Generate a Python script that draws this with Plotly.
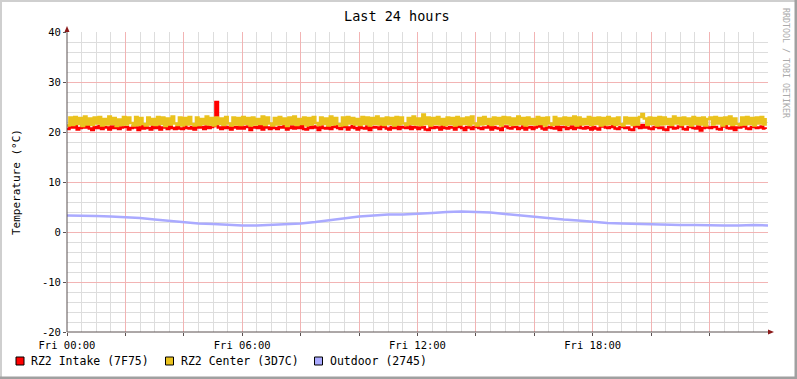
import plotly.graph_objects as go

# ---------------- data ----------------
title_text = "Last 24 hours"
y_title = "Temperature (°C)"
series_names = ["RZ2 Intake (7F75)", "RZ2 Center (3D7C)", "Outdoor (2745)"]
series_colors = ["#FF0000", "#EAC21E", "#AAAAFF"]

x_tick_hours = [0, 2, 4, 6, 8, 10, 12, 14, 16, 18, 20, 22]
x_tick_text = ["Fri 00:00", "", "", "Fri 06:00", "", "", "Fri 12:00", "", "", "Fri 18:00", "", ""]
y_tick_vals = [-20, -10, 0, 10, 20, 30, 40]
y_tick_text = ["-20", "-10", "0", "10", "20", "30", "40"]

# RZ2 Intake, 5-minute samples (288)
intake = [
    20.6, 21.0, 20.9, 21.2, 20.5, 20.8, 21.1, 20.9, 21.3, 20.7, 20.4, 21.0,
    20.8, 21.2, 20.6, 21.0, 20.9, 20.5, 21.1, 20.8, 21.2, 20.6, 20.9, 21.0,
    21.0, 20.5, 20.8, 21.1, 20.9, 20.4, 21.2, 20.7, 21.0, 20.8, 20.5, 21.1,
    20.8, 21.1, 20.5, 20.9, 21.0, 20.6, 21.1, 20.8, 20.6, 21.0, 20.7, 20.6,
    21.1, 20.8, 20.7, 21.0, 20.5, 21.2, 20.9, 21.0, 20.6, 21.1, 20.8, 21.0,
    21.2, 26.0, 20.9, 20.6, 21.1, 20.8, 21.0, 20.5, 20.9, 21.0, 20.7, 21.1,
    20.7, 21.0, 21.1, 20.4, 20.9, 21.0, 20.8, 21.2, 20.5, 21.0, 20.9, 20.6,
    21.1, 20.8, 20.6, 21.0, 20.9, 21.2, 20.5, 20.8, 21.1, 20.7, 21.0, 20.8,
    21.2, 20.6, 20.5, 21.0, 20.8, 21.1, 20.9, 20.4, 21.1, 20.8, 20.7, 21.0,
    20.6, 21.0, 21.2, 20.8, 20.6, 21.0, 21.1, 20.5, 20.9, 21.2, 20.8, 20.5,
    21.0, 20.8, 20.7, 21.1, 20.4, 20.9, 21.0, 20.9, 20.6, 21.2, 21.0, 20.7,
    20.5, 21.0, 20.8, 21.1, 20.6, 21.0, 20.9, 20.8, 21.1, 20.6, 21.0, 20.9,
    20.6, 20.9, 21.0, 20.5, 20.4, 21.1, 20.8, 21.0, 20.9, 20.5, 21.2, 20.8,
    20.7, 21.0, 20.9, 20.5, 21.0, 21.1, 20.8, 20.4, 21.0, 20.9, 20.6, 21.0,
    21.1, 20.8, 20.6, 20.9, 20.9, 21.2, 20.5, 21.0, 20.8, 20.7, 20.4, 21.1,
    21.1, 20.8, 20.7, 21.0, 21.0, 20.6, 20.8, 21.1, 20.5, 20.9, 21.0, 20.6,
    20.9, 21.1, 21.2, 20.7, 20.5, 20.9, 21.0, 20.8, 20.7, 21.1, 20.4, 21.0,
    21.0, 20.6, 20.8, 21.1, 20.6, 20.9, 21.2, 20.8, 20.7, 21.0, 20.8, 20.5,
    21.0, 20.7, 20.5, 21.1, 21.1, 20.9, 20.8, 21.0, 21.3, 20.7, 20.6, 21.0,
    21.0, 20.8, 20.9, 20.5, 20.4, 21.1, 21.1, 20.8, 21.4, 20.9, 21.0, 20.7,
    20.6, 21.0, 21.1, 20.8, 20.9, 20.5, 20.4, 21.0, 21.0, 20.7, 20.8, 21.1,
    21.2, 20.6, 20.5, 21.0, 21.0, 20.8, 20.7, 21.1, 20.3, 20.8, 21.1, 20.9,
    20.8, 21.0, 21.0, 20.6, 20.5, 21.1, 21.2, 20.8, 20.7, 21.0, 20.4, 20.9,
    20.9, 21.1, 21.1, 20.7, 20.6, 21.0, 21.0, 20.8, 20.9, 21.1, 20.7, 20.6,
]
intake_step_min = 5

# RZ2 Center, 5-minute samples (288)
center = [
    21.3, 22.9, 21.4, 23.0, 21.6, 22.8, 21.2, 23.1, 21.5, 22.7, 21.4, 22.9,
    21.7, 23.0, 21.3, 22.6, 21.5, 23.1, 21.6, 22.8, 21.2, 22.5, 21.4, 23.0,
    21.5, 22.9, 21.8, 21.3, 23.0, 21.4, 22.8, 21.6, 21.3, 22.9, 21.5, 22.6,
    21.4, 23.0, 21.6, 22.9, 21.2, 22.7, 21.5, 23.1, 21.7, 21.4, 22.9, 21.3,
    22.8, 21.5, 23.0, 21.6, 21.3, 22.9, 21.4, 22.6, 21.6, 23.1, 21.5, 22.8,
    21.3, 22.9, 21.6, 22.7, 21.4, 23.0, 21.7, 21.3, 22.9, 21.5, 22.8, 21.4,
    23.0, 21.6, 22.8, 21.3, 22.9, 21.5, 22.6, 21.6, 23.1, 21.4, 22.9, 21.7,
    21.3, 22.8, 21.5, 23.0, 21.6, 22.7, 21.2, 22.9, 21.6, 23.1, 21.4, 22.6,
    21.6, 22.9, 21.3, 22.8, 21.5, 23.0, 21.8, 21.4, 22.9, 21.6, 22.7, 21.3,
    23.1, 21.5, 22.8, 21.6, 21.3, 22.9, 21.4, 23.0, 21.7, 22.8, 21.5, 22.6,
    21.4, 23.0, 21.6, 22.9, 21.3, 22.8, 21.6, 23.1, 21.5, 22.7, 21.4, 22.9,
    21.6, 22.8, 21.3, 23.0, 21.5, 22.9, 21.7, 21.4, 22.8, 21.6, 23.1, 21.5,
    22.7, 21.4, 23.5, 21.6, 22.9, 21.3, 22.8, 21.6, 23.0, 21.5, 22.6, 21.4,
    22.9, 21.6, 22.8, 21.3, 23.0, 21.5, 22.7, 21.6, 22.9, 21.4, 23.1, 21.7,
    21.3, 22.8, 21.5, 23.0, 21.6, 22.6, 21.4, 22.9, 21.6, 22.8, 21.3, 23.0,
    21.7, 22.9, 21.4, 22.7, 21.5, 23.1, 21.6, 22.8, 21.3, 22.9, 21.6, 22.6,
    21.5, 23.0, 21.6, 22.8, 21.3, 22.9, 21.7, 21.4, 23.0, 21.5, 22.7, 21.6,
    22.9, 21.4, 22.8, 21.6, 23.1, 21.3, 22.9, 21.5, 22.6, 21.6, 23.0, 21.4,
    22.8, 21.6, 22.9, 21.3, 22.8, 21.5, 23.0, 21.6, 22.7, 21.4, 22.9, 21.6,
    21.3, 22.9, 21.7, 22.8, 21.4, 22.8, 21.5, 23.0, 23.6, 22.7, 21.4, 22.9,
    21.6, 22.8, 21.3, 23.0, 21.5, 22.9, 21.6, 22.6, 21.4, 23.1, 21.7, 22.8,
    21.4, 22.9, 21.6, 22.7, 21.3, 23.0, 21.6, 22.8, 21.5, 22.9, 21.3, 22.6,
    22.9, 21.5, 23.0, 21.7, 22.8, 21.3, 22.9, 21.6, 23.1, 21.4, 22.7, 21.6,
    21.4, 22.9, 21.5, 23.0, 21.6, 22.8, 21.3, 22.9, 21.7, 23.0, 21.5, 22.8,
]
center_step_min = 5

# Outdoor, 30-minute samples (49)
outdoor = [
    3.3, 3.3, 3.2, 3.1, 3.0, 2.8, 2.5, 2.2, 1.9, 1.7, 1.6, 1.4,
    1.3, 1.3, 1.4, 1.5, 1.7, 2.0, 2.4, 2.8, 3.1, 3.3, 3.5, 3.5,
    3.6, 3.8, 4.0, 4.1, 4.0, 3.9, 3.6, 3.3, 3.0, 2.7, 2.5, 2.3,
    2.0, 1.8, 1.7, 1.6, 1.5, 1.5, 1.4, 1.4, 1.3, 1.3, 1.3, 1.4,
    1.3,
]
outdoor_step_min = 30

# ---------------- geometry helpers ----------------
W, H = 797, 379
L, R, T, B = 67, 768, 32, 332


def pxx(x):
    return (x - L) / (R - L)


def pxy(y):
    return (B - y) / (B - T)


FONT = "DejaVu Sans Mono"

fig = go.Figure()
for vals, step, name, col, wid, shp in [
    (intake, intake_step_min, series_names[0], series_colors[0], 2.6, "hv"),
    (center, center_step_min, series_names[1], series_colors[1], 2.6, "hv"),
    (outdoor, outdoor_step_min, series_names[2], series_colors[2], 2.5, "linear"),
]:
    xs = [i * step / 60.0 for i in range(len(vals))]
    fig.add_trace(go.Scatter(x=xs, y=vals, mode="lines", name=name,
                             line=dict(color=col, width=wid, shape=shp),
                             showlegend=False, hoverinfo="skip"))

major_grid = "#F2B4B4"
minor_grid = "#DDDDDD"
axis_col = "#5A5050"

fig.update_layout(
    width=W, height=H, autosize=False,
    margin=dict(l=L, r=W - R, t=T, b=H - B, pad=0),
    paper_bgcolor="white", plot_bgcolor="white",
    showlegend=False,
    xaxis=dict(range=[0, 24], tickmode="array", tickvals=x_tick_hours, ticktext=x_tick_text,
               showgrid=True, gridcolor=major_grid, gridwidth=1, zeroline=False,
               ticks="outside", ticklen=3, tickcolor=axis_col, showline=False,
               tickfont=dict(family=FONT, size=10.5, color="black"),
               minor=dict(tick0=0, dtick=0.5, showgrid=True, gridcolor=minor_grid, gridwidth=1, ticks=""),
               fixedrange=True),
    yaxis=dict(range=[-20, 40], tickmode="array", tickvals=y_tick_vals, ticktext=y_tick_text,
               showgrid=True, gridcolor=major_grid, gridwidth=1, zeroline=False,
               ticks="outside", ticklen=3, tickcolor=axis_col, showline=False,
               tickfont=dict(family=FONT, size=10.5, color="black"),
               minor=dict(tick0=0, dtick=2, showgrid=True, gridcolor=minor_grid, gridwidth=1, ticks=""),
               fixedrange=True),
)

shapes = []
# axes lines
shapes.append(dict(type="line", xref="paper", yref="paper", x0=pxx(67), y0=pxy(332), x1=pxx(67), y1=pxy(29),
                   line=dict(color=axis_col, width=1)))
shapes.append(dict(type="line", xref="paper", yref="paper", x0=pxx(67), y0=pxy(332), x1=pxx(771), y1=pxy(332),
                   line=dict(color=axis_col, width=1)))
arrow_col = "#8B1A1A"
up = "M {} {} L {} {} L {} {} Z".format(pxx(64.5), pxy(32), pxx(69.5), pxy(32), pxx(67), pxy(26))
shapes.append(dict(type="path", xref="paper", yref="paper", path=up, fillcolor=arrow_col, line=dict(width=0)))
rt = "M {} {} L {} {} L {} {} Z".format(pxx(768), pxy(329.5), pxx(768), pxy(334.5), pxx(774), pxy(332))
shapes.append(dict(type="path", xref="paper", yref="paper", path=rt, fillcolor=arrow_col, line=dict(width=0)))

# image frame (light top/left, dark bottom/right)
shapes.append(dict(type="rect", xref="paper", yref="paper", x0=pxx(0), x1=pxx(797), y0=pxy(0), y1=pxy(2),
                   fillcolor="#CFCFCF", line=dict(width=0)))
shapes.append(dict(type="rect", xref="paper", yref="paper", x0=pxx(0), x1=pxx(2), y0=pxy(0), y1=pxy(379),
                   fillcolor="#CFCFCF", line=dict(width=0)))
shapes.append(dict(type="rect", xref="paper", yref="paper", x0=pxx(0), x1=pxx(797), y0=pxy(376.5), y1=pxy(379),
                   fillcolor="#A0A0A0", line=dict(width=0)))
shapes.append(dict(type="rect", xref="paper", yref="paper", x0=pxx(794.5), x1=pxx(797), y0=pxy(0), y1=pxy(379),
                   fillcolor="#A0A0A0", line=dict(width=0)))

annotations = []
# legend
legend_x = [16, 165.5, 314.5]
for lx, name, col in zip(legend_x, series_names, series_colors):
    shapes.append(dict(type="rect", xref="paper", yref="paper", x0=pxx(lx), x1=pxx(lx + 8),
                       y0=pxy(357), y1=pxy(365), fillcolor=col, line=dict(color="black", width=1)))
    annotations.append(dict(xref="paper", yref="paper", x=pxx(lx + 13), y=pxy(361), text=name,
                            showarrow=False, xanchor="left", yanchor="middle",
                            font=dict(family=FONT, size=11.5, color="black")))

annotations.append(dict(xref="paper", yref="paper", x=pxx(397), y=pxy(16), text=title_text,
                        showarrow=False, xanchor="center", yanchor="middle",
                        font=dict(family=FONT, size=13.5, color="black")))
annotations.append(dict(xref="paper", yref="paper", x=pxx(16), y=pxy(182), text=y_title,
                        showarrow=False, xanchor="center", yanchor="middle", textangle=-90,
                        font=dict(family=FONT, size=11, color="black")))
annotations.append(dict(xref="paper", yref="paper", x=pxx(786.5), y=pxy(62.5), text="RRDTOOL / TOBI OETIKER",
                        showarrow=False, xanchor="center", yanchor="middle", textangle=90,
                        font=dict(family=FONT, size=8.3, color="#AAAAAA")))

fig.update_layout(shapes=shapes, annotations=annotations)
fig.write_html("out.html", config={"displayModeBar": False},
               post_script="document.body.style.margin='0';document.body.style.overflow='hidden';")
